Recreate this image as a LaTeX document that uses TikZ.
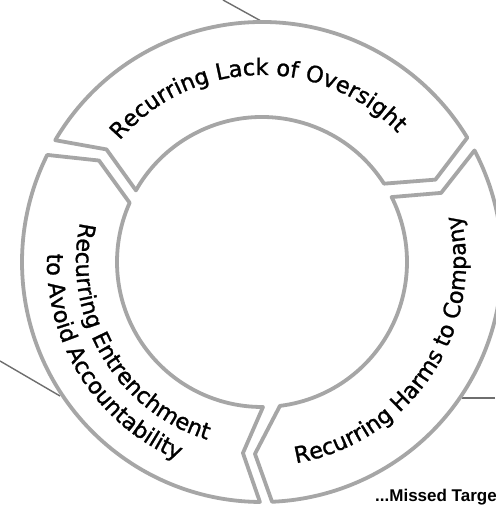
\documentclass[tikz,border=0pt]{standalone}
\usepackage{fontspec}
\setmainfont{DejaVu Sans}
\newfontfamily\arcfamily[FakeBold=1.1]{DejaVu Sans}
\newfontfamily\notefont{Liberation Sans}
\usetikzlibrary{decorations.text}
\definecolor{ringgray}{HTML}{A6A6A6}
\definecolor{leadgray}{HTML}{6E6E6E}
\newcommand\arcfont{\arcfamily\fontsize{22.5}{27}\selectfont}
\tikzset{
  segment/.style={draw=ringgray, line width=3.8pt, fill=white, line join=round},
  leader/.style={draw=leadgray, line width=1.4pt},
  arclabel/.style={decorate, decoration={text along path, text align=center, text={#1}}},
}
\begin{document}
\begin{tikzpicture}[x=1pt,y=1pt]
\useasboundingbox (0,0) rectangle (495,508);
\coordinate (c) at (262,246);

% leader lines running off the sheet
\coordinate (topEnd) at (223,508);
\coordinate (topRing) at (261,487);
\coordinate (leftEnd) at (0,147);
\coordinate (leftRing) at (60,112);
\coordinate (rightEnd) at (495,110);
\coordinate (rightRing) at (462,110);
\draw[leader] (topEnd) -- (topRing);
\draw[leader] (leftEnd) -- (leftRing);
\draw[leader] (rightEnd) -- (rightRing);

\begin{scope}[shift={(c)}]
  % top segment: notch on the left, point on the right
  \draw[segment] (149.5:240pt) arc[start angle=149.5, end angle=31.2, radius=240pt]
    -- (25.4:192pt) -- (32.7:145pt) arc[start angle=32.7, end angle=150.4, radius=145pt]
    -- (144.1:192pt) -- cycle;
  % right segment
  \draw[segment] (27.7:240pt) arc[start angle=27.7, end angle=-87.6, radius=240pt]
    -- (-92.1:192pt) -- (-82.9:145pt) arc[start angle=-82.9, end angle=26.6, radius=145pt]
    -- (21.1:192pt) -- cycle;
  % left segment
  \draw[segment] (269.5:240pt) arc[start angle=269.5, end angle=153.5, radius=240pt]
    -- (148.1:192pt) -- (155.9:145pt) arc[start angle=155.9, end angle=270.4, radius=145pt]
    -- (264.3:192pt) -- cycle;

  % curved labels
  \path[arclabel={|\arcfont|Recurring Lack of Oversight}]
    (151.5:187pt) arc[start angle=151.5, end angle=31.5, radius=187pt];
  \path[arclabel={|\arcfont|Recurring Harms to Company}]
    (-93.5:204pt) arc[start angle=-93.5, end angle=26.5, radius=204pt];
  \path[arclabel={|\arcfont|Recurring Entrenchment}]
    (150.3:186pt) arc[start angle=150.3, end angle=270.3, radius=186pt];
  \path[arclabel={|\arcfont|to Avoid Accountability}]
    (152.4:215pt) arc[start angle=152.4, end angle=272.4, radius=215pt];
\end{scope}

\node[anchor=base west, inner sep=0pt, font=\notefont\bfseries\fontsize{17}{20}\selectfont]
  (missed) at (375,6) {...Missed Target};
\end{tikzpicture}
\end{document}
